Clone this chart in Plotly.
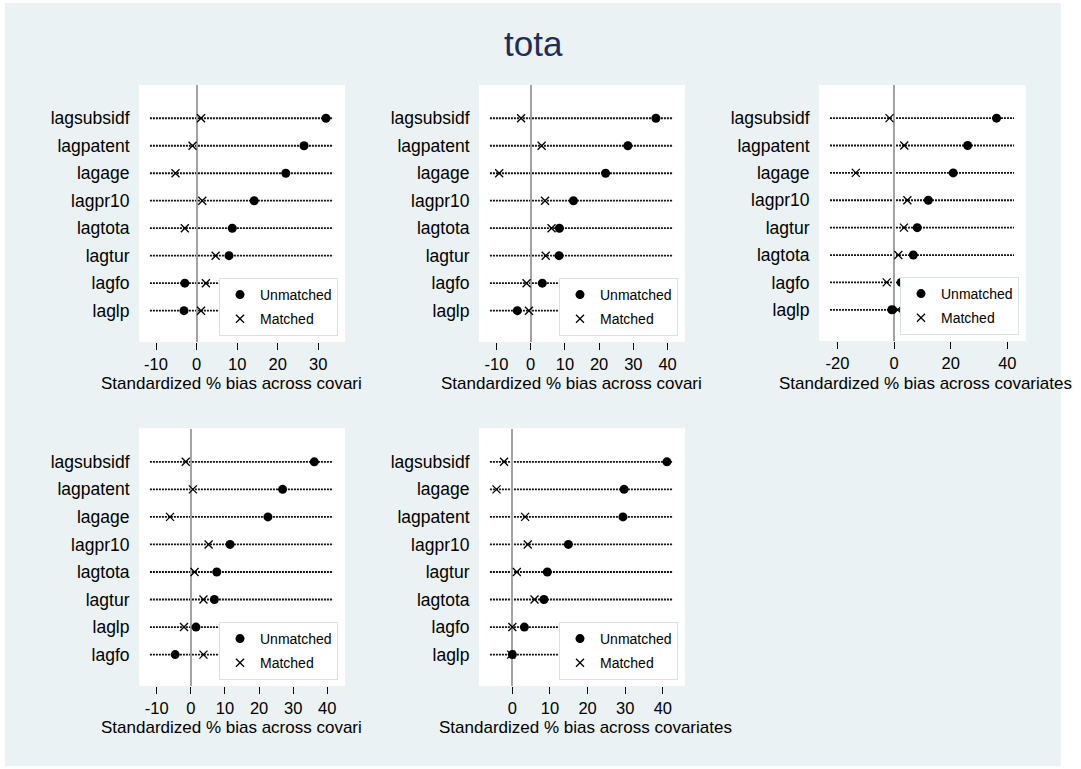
import plotly.graph_objects as go

W, H = 1081, 769

title_text = "tota"
xtitle_full = "Standardized % bias across covariates"
xtitle_cut = "Standardized % bias across covari"
legend_names = ["Unmatched", "Matched"]

# ---- data ----
p1_vars = ["lagsubsidf", "lagpatent", "lagage", "lagpr10", "lagtota", "lagtur", "lagfo", "laglp"]
p1_unmatched = [31.9, 26.5, 22.0, 14.2, 8.8, 8.0, -2.9, -3.1]
p1_matched = [1.1, -1.0, -5.2, 1.4, -2.9, 4.7, 2.3, 1.1]
p1_ticks = [-10, 0, 10, 20, 30]

p2_vars = ["lagsubsidf", "lagpatent", "lagage", "lagpr10", "lagtota", "lagtur", "lagfo", "laglp"]
p2_unmatched = [36.6, 28.4, 21.9, 12.5, 8.4, 8.3, 3.4, -3.9]
p2_matched = [-2.8, 3.2, -9.2, 4.2, 6.1, 4.4, -1.2, -0.5]
p2_ticks = [-10, 0, 10, 20, 30, 40]

p3_vars = ["lagsubsidf", "lagpatent", "lagage", "lagpr10", "lagtur", "lagtota", "lagfo", "laglp"]
p3_unmatched = [36.2, 26.0, 20.9, 12.1, 8.2, 6.8, 2.5, -0.8]
p3_matched = [-1.6, 3.6, -13.5, 4.7, 3.5, 1.5, -2.6, 1.3]
p3_ticks = [-20, 0, 20, 40]

p4_vars = ["lagsubsidf", "lagpatent", "lagage", "lagpr10", "lagtota", "lagtur", "laglp", "lagfo"]
p4_unmatched = [36.2, 26.9, 22.6, 11.5, 7.6, 6.9, 1.5, -4.6]
p4_matched = [-1.5, 0.6, -6.1, 5.2, 1.1, 3.7, -2.0, 3.7]
p4_ticks = [-10, 0, 10, 20, 30, 40]

p5_vars = ["lagsubsidf", "lagage", "lagpatent", "lagpr10", "lagtur", "lagtota", "lagfo", "laglp"]
p5_unmatched = [41.1, 29.7, 29.4, 14.9, 9.3, 8.4, 3.2, 0.0]
p5_matched = [-2.2, -4.2, 3.4, 4.1, 1.2, 5.9, 0.0, -0.3]
p5_ticks = [0, 10, 20, 30, 40]

panels = [
    dict(vars=p1_vars, um=p1_unmatched, m=p1_matched, ticks=p1_ticks,
         box=(139, 345, 85, 342), xr=[-14.2, 36.6], cut=True),
    dict(vars=p2_vars, um=p2_unmatched, m=p2_matched, ticks=p2_ticks,
         box=(479, 685, 85, 342), xr=[-15.1, 45.1], cut=True),
    dict(vars=p3_vars, um=p3_unmatched, m=p3_matched, ticks=p3_ticks,
         box=(819, 1026, 85, 341), xr=[-26.5, 46.6], cut=False),
    dict(vars=p4_vars, um=p4_unmatched, m=p4_matched, ticks=p4_ticks,
         box=(139, 345, 428.5, 686), xr=[-15.2, 45.2], cut=True),
    dict(vars=p5_vars, um=p5_unmatched, m=p5_matched, ticks=p5_ticks,
         box=(479, 685, 428.5, 686), xr=[-8.86, 45.9], cut=False),
]

FONT = "Liberation Sans, Arial, Helvetica, sans-serif"
BG = "#EAF2F3"
NAVY = "#1c2e5c"
TICK_SIZE = 16.5
XT_SIZE = 17

def px(x):
    return x / W

def py(y):
    return 1 - y / H

fig = go.Figure()
layout = dict(
    width=W, height=H, margin=dict(l=0, r=0, t=0, b=0),
    paper_bgcolor=BG, plot_bgcolor="white",
    font=dict(family=FONT, color="black"),
    showlegend=True,
)
shapes = []
annotations = []

for i, p in enumerate(panels, start=1):
    sfx = "" if i == 1 else str(i)
    xa, ya = "x" + sfx, "y" + sfx
    lg = "legend" + sfx
    x0, x1, y0, y1 = p["box"]
    n = len(p["vars"])

    fig.add_trace(go.Scatter(
        x=p["um"], y=p["vars"], xaxis=xa, yaxis=ya, mode="markers",
        name=legend_names[0], legend=lg, legendgroup="u" + sfx, zorder=2,
        marker=dict(symbol="circle", size=9, color="black", line=dict(width=0)),
        hoverinfo="x+y"))
    fig.add_trace(go.Scatter(
        x=p["m"], y=p["vars"], xaxis=xa, yaxis=ya, mode="markers",
        name=legend_names[1], legend=lg, legendgroup="m" + sfx, zorder=1,
        marker=dict(symbol="x-thin-open", size=8, color="black",
                    line=dict(width=1.3, color="black")),
        hoverinfo="x+y"))

    layout["xaxis" + sfx] = dict(
        domain=[px(x0), px(x1)], anchor=ya, range=p["xr"],
        tickmode="array", tickvals=p["ticks"], ticktext=[str(t) for t in p["ticks"]],
        ticks="outside", ticklen=7, tickwidth=1, tickcolor="black",
        showline=True, linecolor="black", linewidth=1,
        showgrid=False, zeroline=True, zerolinecolor="#a3a3a3", zerolinewidth=1.5,
        tickfont=dict(size=TICK_SIZE, color="black", family=FONT), fixedrange=True)
    layout["yaxis" + sfx] = dict(
        domain=[py(y1), py(y0)], anchor=xa, type="category",
        categoryorder="array", categoryarray=p["vars"],
        range=[n - 1 + 1.14, -1.21],
        showline=True, linecolor="black", linewidth=1,
        ticks="", showgrid=False, zeroline=False, ticklabelstandoff=5,
        tickfont=dict(size=17.5, color="black", family=FONT), fixedrange=True)
    layout[lg] = dict(
        x=px(x1 - 7), y=py(y1 - 6), xanchor="right", yanchor="bottom",
        bgcolor="white", bordercolor="#d8e1e3", borderwidth=1,
        traceorder="grouped", tracegroupgap=3,
        font=dict(size=14, color="black", family=FONT),
        itemclick=False, itemdoubleclick=False)

    # dotted guide lines for each covariate
    for v in p["vars"]:
        shapes.append(dict(type="line", xref=xa + " domain", yref=ya,
                           x0=0.053, x1=0.942, y0=v, y1=v, layer="below",
                           line=dict(color="#111111", width=1.8, dash="2px,1px")))

    # x axis title (clipped in the original for narrow panels)
    ty = 383 if y0 < 200 else 727
    if p["cut"]:
        annotations.append(dict(text=xtitle_cut, xref="paper", yref="paper",
                                x=px((x0 + x1) / 2 + 3 - 146.5), y=py(ty),
                                xanchor="left", yanchor="middle", showarrow=False,
                                font=dict(size=XT_SIZE, color="black", family=FONT)))
    else:
        annotations.append(dict(text=xtitle_full, xref="paper", yref="paper",
                                x=px((x0 + x1) / 2 + 3), y=py(ty),
                                xanchor="center", yanchor="middle", showarrow=False,
                                font=dict(size=XT_SIZE, color="black", family=FONT)))

# title
annotations.append(dict(text=title_text, xref="paper", yref="paper",
                        x=px(533), y=py(43), xanchor="center", yanchor="middle",
                        showarrow=False, font=dict(size=35, color=NAVY, family=FONT)))

# white outer border around the graph region
for (a, b, c, d) in [(0, 5, 0, H), (1061, W, 0, H), (0, W, 0, 3), (0, W, 766, H)]:
    shapes.append(dict(type="rect", xref="paper", yref="paper",
                       x0=px(a), x1=px(b), y0=py(d), y1=py(c), layer="below",
                       fillcolor="white", line=dict(width=0)))

layout["shapes"] = shapes
layout["annotations"] = annotations
fig.update_layout(**layout)
fig.write_html(
    "out.html",
    config={"displayModeBar": False},
    post_script="document.body.style.margin='0';document.body.style.padding='0';"
                "document.body.style.overflow='hidden';",
)
